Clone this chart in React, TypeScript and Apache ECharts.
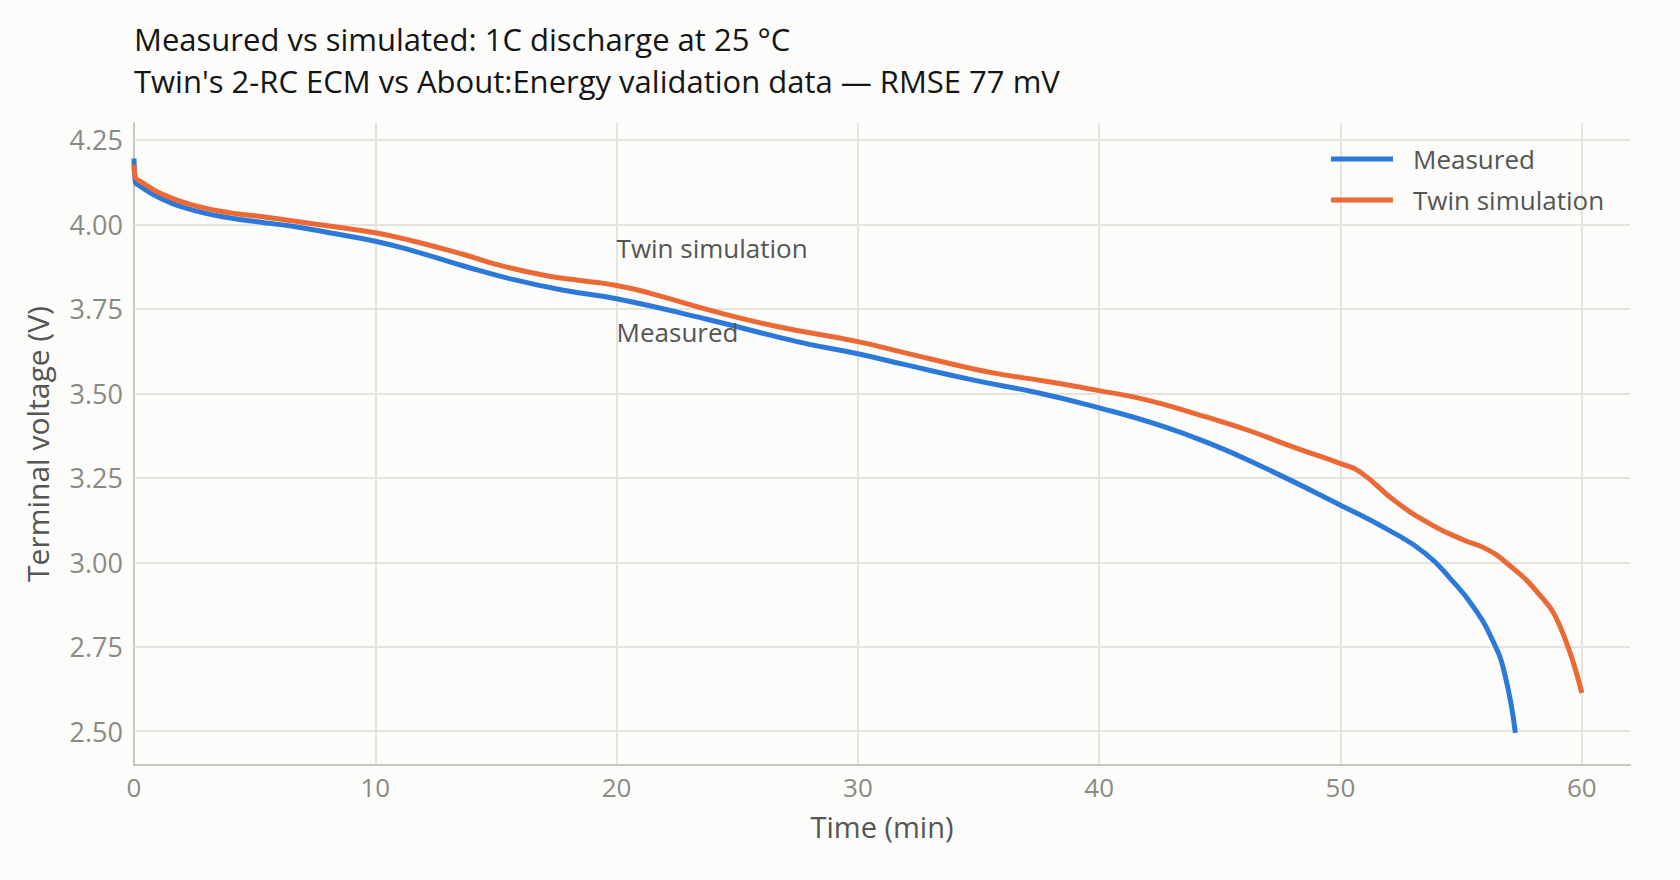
import React, { useEffect, useRef } from "react";
import * as echarts from "echarts";

// ---- data (time in minutes, terminal voltage in volts) ----
const measuredTime = [0, 0.05, 0.25, 1.2, 2.6, 4, 5.4, 6.7, 8.1, 10, 11.6, 13.7, 15.7, 17.8, 20, 23.7, 26.5, 28, 30, 32, 34.8, 37.5, 40, 42.3, 44.6, 46.9, 50, 52, 53.5, 54.6, 55.5, 56.3, 56.8, 57.25];
const measuredVolt = [4.195, 4.128, 4.113, 4.074, 4.039, 4.019, 4.005, 3.993, 3.975, 3.95, 3.921, 3.876, 3.837, 3.805, 3.78, 3.72, 3.67, 3.645, 3.617, 3.584, 3.539, 3.501, 3.457, 3.41, 3.351, 3.278, 3.169, 3.095, 3.027, 2.948, 2.869, 2.77, 2.672, 2.495];

const twinTime = [0, 0.05, 0.25, 1.2, 2.6, 4, 5.4, 6.7, 8.1, 10, 11.6, 13.7, 15.1, 17.1, 18.5, 20, 21.4, 23.7, 26.5, 30, 32, 34.8, 36.2, 37.5, 40, 42, 44.2, 45, 46.2, 48.2, 50, 50.8, 52.3, 53.8, 55.1, 56, 56.9, 58.2, 59.1, 60];
const twinVolt = [4.177, 4.14, 4.128, 4.088, 4.054, 4.034, 4.022, 4.009, 3.995, 3.975, 3.95, 3.91, 3.88, 3.848, 3.834, 3.819, 3.796, 3.749, 3.7, 3.653, 3.619, 3.572, 3.553, 3.539, 3.508, 3.48, 3.435, 3.418, 3.39, 3.337, 3.292, 3.268, 3.179, 3.11, 3.066, 3.041, 2.997, 2.908, 2.81, 2.613];

const yTickValues = [2.5, 2.75, 3.0, 3.25, 3.5, 3.75, 4.0, 4.25];
const seriesNames = ["Measured", "Twin simulation"];
const titleLines = ["Measured vs simulated: 1C discharge at 25 °C", "Twin's 2-RC ECM vs About:Energy validation data — RMSE 77 mV"];
const annotationTexts = ["Twin simulation", "Measured"];
const annotationTimes = [20, 20];
const annotationVolts = [3.93, 3.68];

const FONT = "'Open Sans', 'Noto Sans', sans-serif";
const BLUE = "#2c79d9";
const ORANGE = "#ec6935";
const GRID = "#e4e3dc";
const AXIS = "#c6c6bd";

export default function App() {
  const ref = useRef<HTMLDivElement>(null);
  useEffect(() => {
    if (!ref.current) return;
    const chart = echarts.init(ref.current, undefined, { renderer: "svg" });
    const zip = (t: number[], v: number[]) => t.map((x, i) => [x, v[i]]);
    chart.setOption({
      animation: false,
      backgroundColor: "#fcfcfa",
      textStyle: { fontFamily: FONT },
      title: {
        text: titleLines[0],
        subtext: titleLines[1],
        left: 134,
        top: 21,
        padding: 0,
        itemGap: 6,
        textStyle: { fontFamily: FONT, fontSize: 31, fontWeight: "normal", color: "#151515", lineHeight: 36 },
        subtextStyle: { fontFamily: FONT, fontSize: 31, fontWeight: "normal", color: "#151515", lineHeight: 36 },
      },
      legend: {
        data: seriesNames,
        orient: "vertical",
        left: 1331,
        top: 144,
        padding: 0,
        icon: "rect",
        itemWidth: 62,
        itemHeight: 5,
        itemGap: 11,
        textStyle: { fontFamily: FONT, fontSize: 26, lineHeight: 30, color: "#555555", padding: [0, 0, 0, 15] },
      },
      grid: { left: 134, top: 123, width: 1496, height: 642, containLabel: false },
      xAxis: {
        type: "value",
        min: 0,
        max: 62,
        interval: 10,
        name: "Time (min)",
        nameLocation: "middle",
        nameGap: 47,
        nameTextStyle: { fontFamily: FONT, fontSize: 29, color: "#555555" },
        axisLine: { show: true, lineStyle: { color: AXIS, width: 2 } },
        axisTick: { show: false },
        axisLabel: {
          margin: 9,
          fontSize: 26,
          color: "#8a8a84",
          fontFamily: FONT,
          formatter: (v: number) => (v % 10 === 0 ? String(v) : ""),
        },
        splitLine: { show: true, showMinLine: false, showMaxLine: false, lineStyle: { color: GRID, width: 2 } },
      },
      yAxis: {
        type: "value",
        min: 2.4,
        max: 4.3,
        interval: 0.05,
        name: "Terminal voltage (V)",
        nameLocation: "middle",
        nameGap: 82,
        nameTextStyle: { fontFamily: FONT, fontSize: 30, color: "#555555" },
        axisLine: { show: true, lineStyle: { color: AXIS, width: 2 } },
        axisTick: { show: false },
        axisLabel: {
          margin: 11,
          fontSize: 27,
          color: "#8a8a84",
          fontFamily: FONT,
          formatter: (v: number) => {
            const hit = yTickValues.some((t) => Math.abs(t - v) < 1e-6);
            return hit ? v.toFixed(2) : "";
          },
        },
        splitLine: { show: false },
      },
      series: [
        {
          name: seriesNames[0],
          type: "line",
          data: zip(measuredTime, measuredVolt),
          symbol: "none",
          smooth: 0.5,
          z: 3,
          lineStyle: { color: BLUE, width: 5 },
          itemStyle: { color: BLUE },
          markLine: {
            silent: true,
            symbol: "none",
            z: 1,
            label: { show: false },
            lineStyle: { color: GRID, width: 2, type: "solid" },
            emphasis: { disabled: true },
            data: yTickValues.map((v) => ({ yAxis: v })),
          },
        },
        {
          name: seriesNames[1],
          type: "line",
          data: zip(twinTime, twinVolt),
          symbol: "none",
          smooth: 0.5,
          z: 4,
          lineStyle: { color: ORANGE, width: 5 },
          itemStyle: { color: ORANGE },
          markPoint: {
            silent: true,
            symbol: "circle",
            symbolSize: 0,
            data: annotationTexts.map((txt, i) => ({
              name: txt,
              coord: [annotationTimes[i], annotationVolts[i]],
              label: {
                show: true,
                position: "right",
                distance: 0,
                formatter: txt,
                fontFamily: FONT,
                fontSize: 26,
                color: "#555555",
              },
            })),
          },
        },
      ],
    });
    return () => chart.dispose();
  }, []);
  return (
    <div style={{ position: "fixed", left: 0, top: 0, width: 1680, height: 880 }}>
      <div ref={ref} style={{ width: 1680, height: 880 }} />
    </div>
  );
}
